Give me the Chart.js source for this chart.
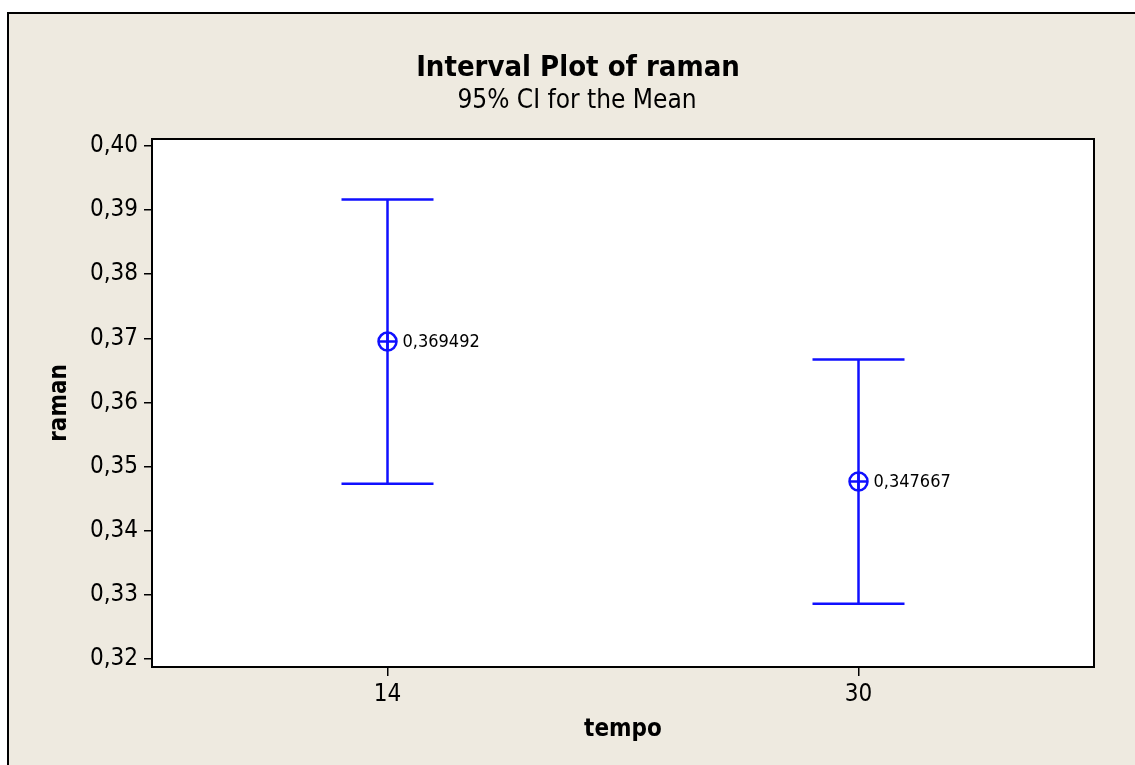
<!DOCTYPE html>
<html>
<head>
<meta charset="utf-8">
<script src="https://cdn.jsdelivr.net/npm/chart.js@4.4.0/dist/chart.umd.min.js"></script>
<style>
  html, body { margin: 0; padding: 0; background: #fff; width: 1135px; height: 765px; overflow: hidden; }
  #frame { position: absolute; left: 7px; top: 12px; right: 0; bottom: 0; background: #eeeae0;
           border-top: 2px solid #000; border-left: 2px solid #000; }
  #wrap { position: absolute; left: 0; top: 0; width: 1135px; height: 765px; }
</style>
</head>
<body>
<div id="frame"></div>
<div id="wrap"><canvas id="intervalChart" width="1135" height="765"></canvas></div>
<script>
// data
const categories = ['14', '30'];
const xPositions = [1, 3];
const means = [0.369492, 0.347667];
const lowerCI = [0.34733, 0.32862];
const upperCI = [0.39165, 0.36672];
const meanLabels = ['0,369492', '0,347667'];
const yTicks = [0.32, 0.33, 0.34, 0.35, 0.36, 0.37, 0.38, 0.39, 0.40];

const chartTitle = 'Interval Plot of raman';
const chartSubtitle = '95% CI for the Mean';

const FONT = '"DejaVu Sans Condensed", "DejaVu Sans", sans-serif';
const BLUE = '#1010ff';

const meanPoints = xPositions.map((x, i) => ({ x: x, y: means[i] }));

// white plot area + black frame
const frameBox = {
  id: 'frameBox',
  beforeDraw(chart) {
    const { ctx, chartArea: a } = chart;
    ctx.save();
    ctx.fillStyle = '#fff';
    ctx.fillRect(a.left, a.top, a.right - a.left, a.bottom - a.top);
    ctx.restore();
  },
  afterDraw(chart) {
    const { ctx, chartArea: a } = chart;
    ctx.save();
    ctx.strokeStyle = '#000';
    ctx.lineWidth = 2;
    ctx.strokeRect(a.left, a.top, a.right - a.left, a.bottom - a.top);
    ctx.restore();
  }
};

// CI whiskers and caps, plus titles and mean labels
const intervals = {
  id: 'intervals',
  beforeDatasetsDraw(chart) {
    const { ctx } = chart;
    const xs = chart.scales.x, ys = chart.scales.y;
    ctx.save();
    ctx.strokeStyle = BLUE;
    ctx.lineWidth = 2.5;
    xPositions.forEach((xv, i) => {
      const x = xs.getPixelForValue(xv);
      const yLo = ys.getPixelForValue(lowerCI[i]);
      const yHi = ys.getPixelForValue(upperCI[i]);
      ctx.beginPath();
      ctx.moveTo(x, yLo); ctx.lineTo(x, yHi);
      ctx.moveTo(x - 46, yLo); ctx.lineTo(x + 46, yLo);
      ctx.moveTo(x - 46, yHi); ctx.lineTo(x + 46, yHi);
      ctx.stroke();
    });
    ctx.restore();
  },
  afterDatasetsDraw(chart) {
    const { ctx } = chart;
    const xs = chart.scales.x, ys = chart.scales.y;
    ctx.save();
    ctx.fillStyle = '#000';
    ctx.font = '18px ' + FONT;
    ctx.textAlign = 'left';
    ctx.textBaseline = 'middle';
    xPositions.forEach((xv, i) => {
      ctx.fillText(meanLabels[i], xs.getPixelForValue(xv) + 15, ys.getPixelForValue(means[i]) + 1);
    });
    ctx.textAlign = 'center';
    ctx.textBaseline = 'alphabetic';
    ctx.font = 'bold 29px ' + FONT;
    ctx.fillText(chartTitle, 578, 76);
    ctx.font = '26px ' + FONT;
    ctx.fillText(chartSubtitle, 577, 108);
    ctx.restore();
  }
};

new Chart(document.getElementById('intervalChart'), {
  type: 'scatter',
  data: {
    datasets: [
      {
        data: meanPoints,
        pointStyle: 'circle',
        radius: 9,
        borderWidth: 2.5,
        borderColor: BLUE,
        backgroundColor: 'rgba(0,0,0,0)'
      },
      {
        data: meanPoints,
        pointStyle: 'cross',
        radius: 9,
        borderWidth: 2.5,
        borderColor: BLUE
      }
    ]
  },
  options: {
    responsive: false,
    animation: false,
    layout: { padding: { left: 0, top: 139, right: 41, bottom: 0 } },
    plugins: { legend: { display: false }, tooltip: { enabled: false } },
    scales: {
      x: {
        type: 'linear',
        min: 0,
        max: 4,
        afterBuildTicks: s => { s.ticks = xPositions.map(v => ({ value: v })); },
        afterFit: s => { s.height = 98; },
        ticks: {
          callback: v => categories[xPositions.indexOf(v)],
          color: '#000',
          font: { family: FONT, size: 24 },
          padding: 4,
          maxRotation: 0
        },
        grid: { drawOnChartArea: false, drawTicks: true, tickLength: 9, color: '#000', lineWidth: 1.5 },
        border: { display: false },
        title: {
          display: true,
          text: 'tempo',
          color: '#000',
          font: { family: FONT, size: 24, weight: 'bold' },
          padding: 21
        }
      },
      y: {
        min: 0.31875,
        max: 0.40109,
        afterBuildTicks: s => { s.ticks = yTicks.map(v => ({ value: v })); },
        afterFit: s => { s.width = 152; },
        ticks: {
          callback: v => v.toFixed(2).replace('.', ','),
          color: '#000',
          font: { family: FONT, size: 24 },
          padding: 6
        },
        grid: { drawOnChartArea: false, drawTicks: true, tickLength: 8, color: '#000', lineWidth: 1.5 },
        border: { display: false },
        title: {
          display: true,
          text: 'raman',
          color: '#000',
          font: { family: FONT, size: 24, weight: 'bold' },
          padding: 45
        }
      }
    }
  },
  plugins: [frameBox, intervals]
});
</script>
</body>
</html>
